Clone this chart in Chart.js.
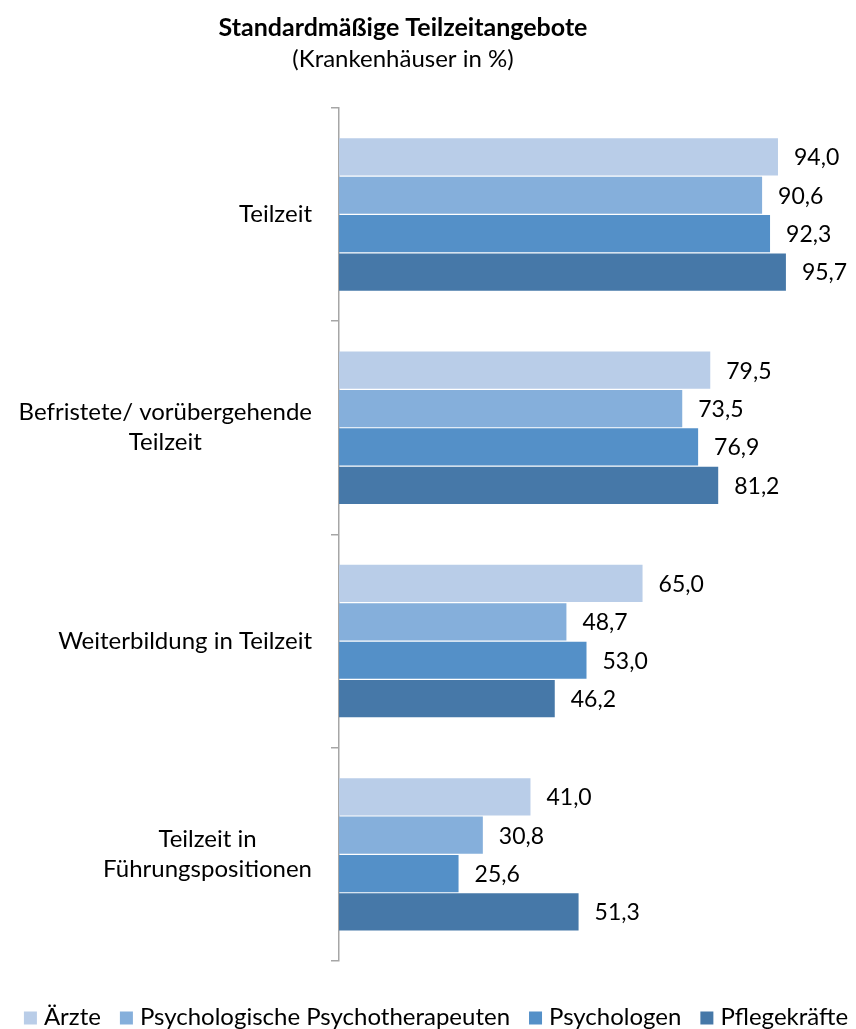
<!DOCTYPE html>
<html lang="de">
<head>
<meta charset="utf-8">
<title>Standardmäßige Teilzeitangebote</title>
<script src="https://cdn.jsdelivr.net/npm/chart.js@4"></script>
<style>
  html, body { margin: 0; padding: 0; background: #fff; }
  #wrap { width: 856px; height: 1029px; }
</style>
</head>
<body>
<div id="wrap"><canvas id="myChart"></canvas></div>
<script>
// Kategorien (mehrzeilige Beschriftungen als Arrays)
const kategorien = [
    ['Teilzeit'],
    ['Befristete/ vorübergehende', 'Teilzeit'],
    ['Weiterbildung in Teilzeit'],
    ['Teilzeit in', 'Führungspositionen']
];

// Werte je Berufsgruppe (Krankenhäuser in %)
const aerzte = [94.0, 79.5, 65.0, 41.0];
const psychotherapeuten = [90.6, 73.5, 48.7, 30.8];
const psychologen = [92.3, 76.9, 53.0, 25.6];
const pflegekraefte = [95.7, 81.2, 46.2, 51.3];

const gruppen = ['Ärzte', 'Psychologische Psychotherapeuten', 'Psychologen', 'Pflegekräfte'];
const farben = ['#B9CDE8', '#85AFDB', '#5490C8', '#4678A8'];

const SCHRIFT = 'Lato, "Open Sans", sans-serif';

// Zahlen mit deutschem Komma
const formatZahl = v => v.toFixed(1).replace('.', ',');

// Eigene Beschriftung der Kategorieachse: Block rechtsbündig, Zeilen zentriert
const achsenText = {
    id: 'achsenText',
    afterDraw(chart) {
        const ctx = chart.ctx;
        const scale = chart.scales.y;
        const rechts = 312;
        const zeilenAbstand = 30;
        ctx.save();
        ctx.font = '24px ' + SCHRIFT;
        ctx.fillStyle = '#000';
        ctx.textAlign = 'center';
        ctx.textBaseline = 'middle';
        kategorien.forEach((zeilen, i) => {
            const breite = Math.max(...zeilen.map(z => ctx.measureText(z).width));
            const mitteX = rechts - breite / 2;
            const mitteY = scale.getPixelForTick(i);
            const startY = mitteY - (zeilen.length - 1) * zeilenAbstand / 2;
            zeilen.forEach((z, j) => ctx.fillText(z, mitteX, startY + j * zeilenAbstand));
        });
        ctx.restore();
    }
};

// Wertebeschriftung rechts neben jedem Balken
const wertText = {
    id: 'wertText',
    afterDatasetsDraw(chart) {
        const ctx = chart.ctx;
        ctx.save();
        ctx.font = '23px ' + SCHRIFT;
        ctx.fillStyle = '#000';
        ctx.textAlign = 'left';
        ctx.textBaseline = 'middle';
        chart.data.datasets.forEach((ds, d) => {
            const meta = chart.getDatasetMeta(d);
            meta.data.forEach((bar, i) => {
                ctx.fillText(formatZahl(ds.data[i]), bar.x + 16, bar.y + 1);
            });
        });
        ctx.restore();
    }
};

// Kompakte Legende unten (Kästchen dicht am Text, eine Zeile)
const legendeUnten = {
    id: 'legendeUnten',
    afterDraw(chart) {
        const ctx = chart.ctx;
        const box = 13, luecke = 7, abstand = 19;
        const y = chart.height - 12;
        ctx.save();
        ctx.font = '24px ' + SCHRIFT;
        ctx.textBaseline = 'middle';
        ctx.textAlign = 'left';
        const breiten = chart.data.datasets.map(ds => ctx.measureText(ds.label).width);
        const gesamt = breiten.reduce((s, b) => s + box + luecke + b, 0) + abstand * (breiten.length - 1);
        let x = (chart.width - gesamt) / 2 + 8;
        chart.data.datasets.forEach((ds, i) => {
            ctx.fillStyle = ds.backgroundColor;
            ctx.fillRect(x, y - box / 2 + 1, box, box);
            ctx.fillStyle = '#000';
            ctx.fillText(ds.label, x + box + luecke, y);
            x += box + luecke + breiten[i] + abstand;
        });
        ctx.restore();
    }
};

const ctx = document.getElementById('myChart').getContext('2d');
const reihen = [aerzte, psychotherapeuten, psychologen, pflegekraefte];

new Chart(ctx, {
    type: 'bar',
    data: {
        labels: kategorien.map(k => k.join(' ')),
        datasets: reihen.map((werte, i) => ({
            label: gruppen[i],
            data: werte,
            backgroundColor: farben[i],
            borderWidth: 0,
            categoryPercentage: 0.72,
            barPercentage: 0.97
        }))
    },
    options: {
        indexAxis: 'y',
        responsive: true,
        maintainAspectRatio: false,
        animation: false,
        layout: {
            padding: { left: 0, right: 50, top: 0, bottom: 68 }
        },
        plugins: {
            title: {
                display: true,
                text: 'Standardmäßige Teilzeitangebote',
                color: '#000',
                font: { family: SCHRIFT, size: 25, weight: 'bold' },
                padding: { top: 13, bottom: 2 }
            },
            subtitle: {
                display: true,
                text: '(Krankenhäuser in %)',
                color: '#000',
                font: { family: SCHRIFT, size: 24 },
                padding: { top: 0, bottom: 34 }
            },
            legend: { display: false },
            tooltip: { enabled: false }
        },
        scales: {
            x: {
                display: false,
                min: 0,
                max: 100
            },
            y: {
                afterFit(scale) { scale.width = 339; },
                ticks: { display: false },
                grid: {
                    drawOnChartArea: false,
                    drawTicks: true,
                    tickLength: 8,
                    color: '#A6A6A6',
                    lineWidth: 1.5
                },
                border: { display: true, color: '#A6A6A6', width: 1.5 }
            }
        }
    },
    plugins: [achsenText, wertText, legendeUnten]
});
</script>
</body>
</html>
